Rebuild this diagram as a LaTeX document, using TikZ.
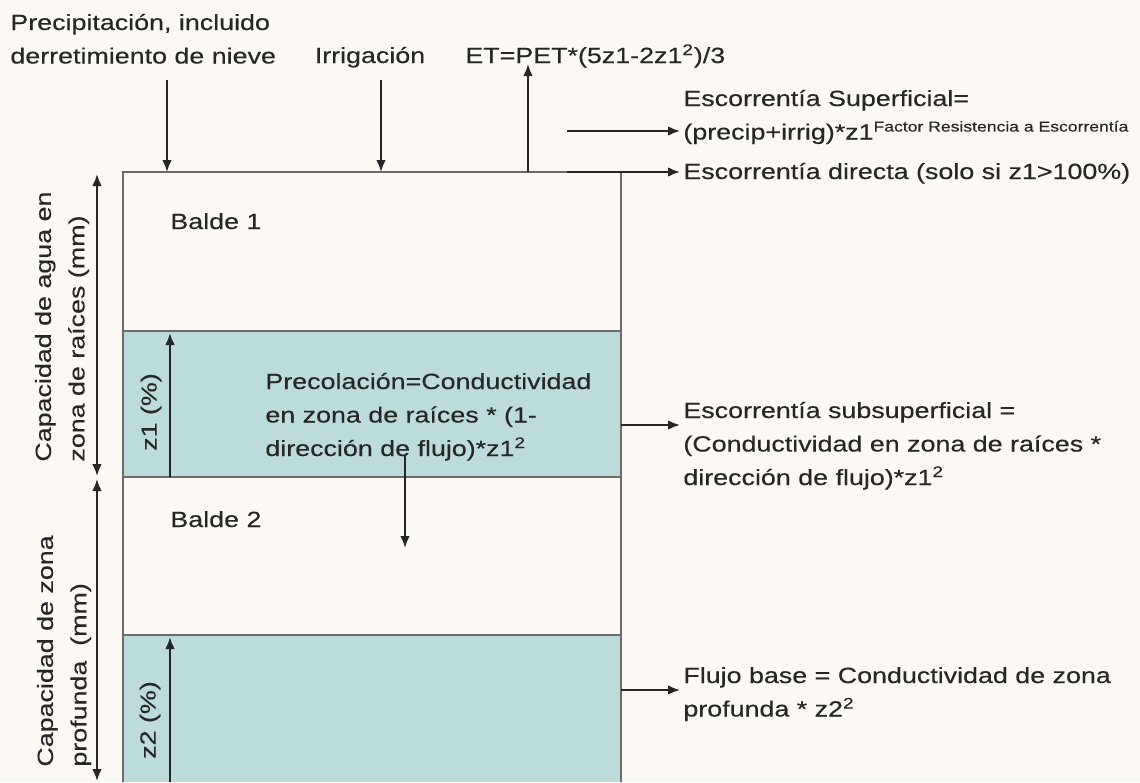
\documentclass[tikz,border=0pt]{standalone}
\usepackage{fontspec}
\setmainfont{Liberation Sans}[FakeStretch=1.22, FakeBold=0.3]
\usetikzlibrary{arrows.meta}
\definecolor{fondo}{HTML}{FCF8F3}
\definecolor{agua}{HTML}{BCDCDC}
\definecolor{tinta}{HTML}{262626}
\definecolor{borde}{HTML}{6A6A6A}
\tikzset{
  flecha/.style={-{Latex[length=6pt,width=4.8pt]}, line width=1pt, draw=tinta},
  doble/.style={{Latex[length=6pt,width=4.8pt]}-{Latex[length=6pt,width=4.8pt]}, line width=1pt, draw=tinta},
  texto/.style={inner sep=0pt, align=left, anchor=base west},
  giro/.style={inner sep=0pt, align=left, anchor=west, rotate=90},
}
\begin{document}
\begin{tikzpicture}[x=0.5pt, y=-0.5pt, font=\fontsize{11}{16.75}\selectfont, text=tinta]
\useasboundingbox[fill=fondo] (0,0) rectangle (1140,782);

\fill[agua] (123,331) rectangle (621,477);
\fill[agua] (123,635) rectangle (621,782);
\draw[borde, line width=0.8pt] (123,782) -- (123,172) -- (621,172) -- (621,782);
\draw[borde, line width=0.8pt] (123,331) -- (621,331);
\draw[borde, line width=0.8pt] (123,477) -- (621,477);
\draw[borde, line width=0.8pt] (123,635) -- (621,635);

\node[texto] (precip) at (10,63.5) {Precipitación, incluido\\derretimiento de nieve};
\node[inner sep=0pt, anchor=base] (irrig) at (370,63) {Irrigación};
\node[texto] (et) at (465,63) {ET=PET*(5z1-2z1\textsuperscript{2})/3};
\node[texto] (sup) at (683,139.5) {Escorrentía Superficial=\\(precip+irrig)*z1\textsuperscript{\fontsize{7.2}{8}\selectfont Factor Resistencia a Escorrentía}};
\node[texto] (dir) at (683,179) {Escorrentía directa (solo si z1>100\%)};
\node[texto] (subsup) at (683,485) {Escorrentía subsuperficial =\\(Conductividad en zona de raíces *\\dirección de flujo)*z1\textsuperscript{2}};
\node[texto] (base) at (683,716.5) {Flujo base = Conductividad de zona\\profunda * z2\textsuperscript{2}};

\node[texto] (balde1) at (170,229) {Balde 1};
\node[texto] (balde2) at (170,527) {Balde 2};
\node[texto] (perc) at (265,456) {Precolación=Conductividad\\en zona de raíces * (1-\\dirección de flujo)*z1\textsuperscript{2}};

\node[giro] (cap1) at (62,462) {Capacidad de agua en\\zona de raíces (mm)};
\node[giro] (cap2) at (64,767) {Capacidad de zona\\profunda \ (mm)};
\node[inner sep=0pt, rotate=90] (z1) at (151,412) {z1 (\%)};
\node[inner sep=0pt, rotate=90] (z2) at (150,720) {z2 (\%)};

\coordinate (lluvia) at (167,80);
\coordinate (lluvia2) at (167,172);
\coordinate (riego) at (381,80);
\coordinate (riego2) at (381,172);
\coordinate (evap) at (528,172);
\coordinate (evap2) at (528,64);
\coordinate (sup1) at (567,131);
\coordinate (sup2) at (680,131);
\coordinate (dir1) at (567,172);
\coordinate (dir2) at (680,172);
\coordinate (sub1) at (621,425);
\coordinate (sub2) at (680,425);
\coordinate (fb1) at (621,690);
\coordinate (fb2) at (680,690);
\coordinate (perc1) at (405,455);
\coordinate (perc2) at (405,548);
\coordinate (za) at (170,477);
\coordinate (zb) at (170,333);
\coordinate (zc) at (170,782);
\coordinate (zd) at (170,637);
\coordinate (ca) at (97,174);
\coordinate (cb) at (97,476);
\coordinate (cc) at (97,479);
\coordinate (cd) at (97,781);

\draw[flecha] (lluvia) -- (lluvia2);
\draw[flecha] (riego) -- (riego2);
\draw[flecha] (evap) -- (evap2);
\draw[flecha] (sup1) -- (sup2);
\draw[flecha] (dir1) -- (dir2);
\draw[flecha] (sub1) -- (sub2);
\draw[flecha] (fb1) -- (fb2);
\draw[flecha] (perc1) -- (perc2);
\draw[flecha] (za) -- (zb);
\draw[flecha] (zc) -- (zd);
\draw[doble] (ca) -- (cb);
\draw[doble] (cc) -- (cd);
\end{tikzpicture}
\end{document}
